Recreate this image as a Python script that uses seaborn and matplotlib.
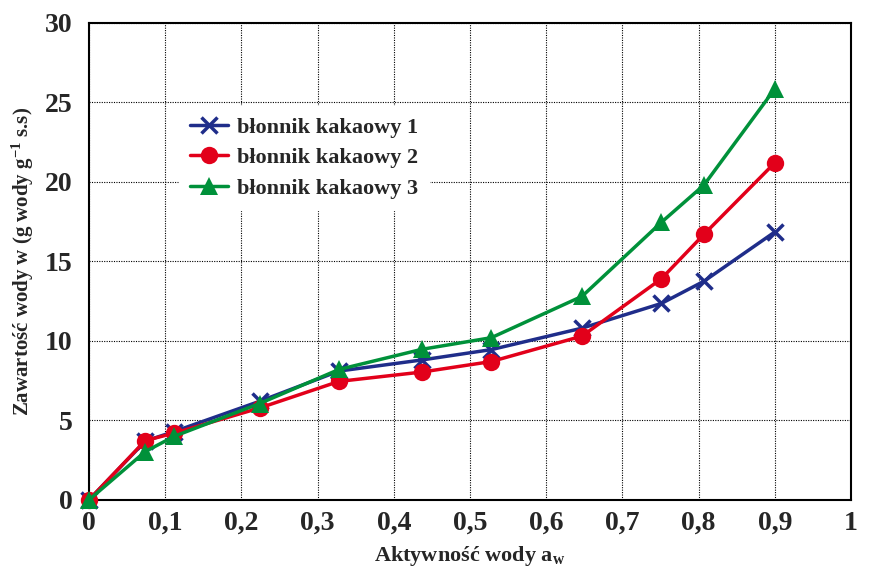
import matplotlib
matplotlib.use("Agg")
import matplotlib.pyplot as plt
import seaborn as sns
import pandas as pd

# ---- data ----
aw = [0, 0.074, 0.112, 0.224, 0.328, 0.437, 0.528, 0.647, 0.751, 0.807, 0.900]
series_names = ["błonnik kakaowy 1", "błonnik kakaowy 2", "błonnik kakaowy 3"]
s1 = [0, 3.7, 4.3, 6.2, 8.1, 8.8, 9.45, 10.8, 12.35, 13.75, 16.85]
s2 = [0, 3.73, 4.2, 5.78, 7.45, 8.04, 8.7, 10.3, 13.9, 16.7, 21.2]
s3 = [0, 3.04, 4.0, 6.06, 8.2, 9.47, 10.2, 12.8, 17.45, 19.8, 25.85]
xticks = [0, 0.1, 0.2, 0.3, 0.4, 0.5, 0.6, 0.7, 0.8, 0.9, 1.0]
xticklabels = ["0", "0,1", "0,2", "0,3", "0,4", "0,5", "0,6", "0,7", "0,8", "0,9", "1"]
yticks = [0, 5, 10, 15, 20, 25, 30]

df = pd.DataFrame({
    "aw": aw * 3,
    "w": s1 + s2 + s3,
    "seria": [series_names[0]] * len(aw) + [series_names[1]] * len(aw) + [series_names[2]] * len(aw),
})

sns.set_theme(style="white")
plt.rcParams["font.family"] = ["Liberation Serif", "DejaVu Serif"]
plt.rcParams["font.weight"] = "bold"
plt.rcParams["mathtext.fontset"] = "custom"
plt.rcParams["mathtext.rm"] = "Liberation Serif:bold"
plt.rcParams["mathtext.bf"] = "Liberation Serif:bold"
plt.rcParams["mathtext.it"] = "Liberation Serif:bold"

fig, ax = plt.subplots(figsize=(8.72, 5.70), dpi=100)
fig.subplots_adjust(left=0.102, right=0.976, top=0.960, bottom=0.123)

colors = {series_names[0]: "#1F2D8A", series_names[1]: "#E2001A", series_names[2]: "#00913A"}
styles = {
    series_names[0]: dict(marker="x", markersize=12, markeredgewidth=2.5),
    series_names[1]: dict(marker="o", markersize=12.5, markeredgewidth=0),
    series_names[2]: dict(marker="^", markersize=13.5, markeredgewidth=0),
}

for name in series_names:
    sub = df[df["seria"] == name]
    sns.lineplot(data=sub, x="aw", y="w", ax=ax, color=colors[name], linewidth=2.5,
                 sort=False, estimator=None, label=name, clip_on=False, zorder=3,
                 markeredgecolor=colors[name], markerfacecolor=colors[name],
                 **styles[name])

ax.set_xlim(0, 1)
ax.set_ylim(0, 30)
ax.set_xticks(xticks)
ax.set_xticklabels(xticklabels)
ax.set_yticks(yticks)
ax.tick_params(axis="both", length=0, labelsize=20)
ax.tick_params(axis="x", pad=8)
ax.tick_params(axis="y", pad=12)
for lab in ax.get_xticklabels() + ax.get_yticklabels():
    lab.set_fontweight("bold")

ax.grid(True, color="black", linestyle=(0, (1, 1.2)), linewidth=0.8)
ax.set_axisbelow(True)
for sp in ax.spines.values():
    sp.set_color("black")
    sp.set_linewidth(1.5)

ax.set_xlabel("Aktywność wody a$_{\\mathbf{w}}$", fontsize=16, fontweight="bold", labelpad=6)
ax.set_ylabel("Zawartość wody w (g wody g$^{\\mathbf{-1}}$ s.s)", fontsize=15, fontweight="bold", labelpad=6)

leg = ax.legend(loc="upper left", bbox_to_anchor=(0.104, 0.849), fontsize=16,
                frameon=True, facecolor="white", edgecolor="white", framealpha=1,
                fancybox=False, handlelength=1.7, handletextpad=0.4, labelspacing=0.45,
                borderpad=0.5)
for t in leg.get_texts():
    t.set_fontweight("bold")

fig.savefig("out.png", dpi=100)
